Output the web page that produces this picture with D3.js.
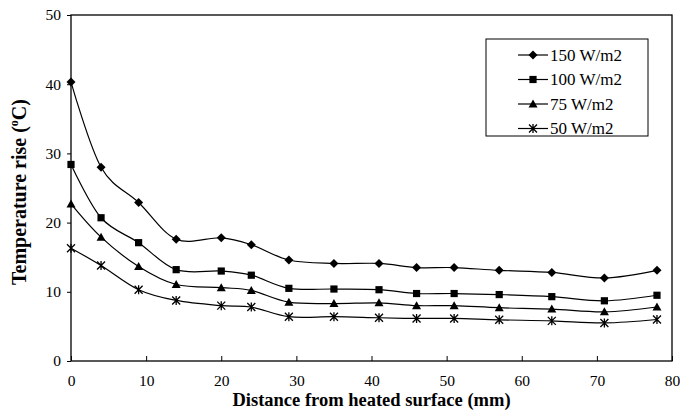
<!DOCTYPE html>
<html>
<head>
<meta charset="utf-8">
<script src="https://cdn.jsdelivr.net/npm/d3@7"></script>
<style>
  html, body { margin: 0; padding: 0; background: #fff; }
  svg { display: block; }
  svg text { font-family: "Times New Roman", "Liberation Serif", Times, serif; }
</style>
</head>
<body>
<svg id="chart" width="680" height="416"></svg>
<script>
// distances (mm) where the thermocouples sit
const distances = [0, 4, 9, 14, 20, 24, 29, 35, 41, 46, 51, 57, 64, 71, 78];

// temperature rise (°C) per heat flux
const rise150 = [40.3, 28.0, 22.9, 17.6, 17.8, 16.8, 14.6, 14.1, 14.1, 13.5, 13.5, 13.1, 12.8, 12.0, 13.1];
const rise100 = [28.4, 20.7, 17.1, 13.2, 13.0, 12.4, 10.5, 10.4, 10.3, 9.75, 9.75, 9.6, 9.3, 8.7, 9.5];
const rise75 = [22.7, 17.9, 13.65, 11.05, 10.6, 10.2, 8.5, 8.3, 8.4, 8.0, 8.0, 7.7, 7.5, 7.1, 7.8];
const rise50 = [16.3, 13.8, 10.3, 8.75, 8.0, 7.8, 6.4, 6.4, 6.25, 6.15, 6.15, 5.95, 5.8, 5.5, 6.0];

const seriesNames = ["150 W/m2", "100 W/m2", "75 W/m2", "50 W/m2"];
const markerTypes = ["diamond", "square", "triangle", "star"];
const xTicks = [0, 10, 20, 30, 40, 50, 60, 70, 80];
const yTicks = [0, 10, 20, 30, 40, 50];

const series = [rise150, rise100, rise75, rise50].map((vals, i) => ({
  name: seriesNames[i],
  marker: markerTypes[i],
  points: distances.map((d, j) => ({ x: d, y: vals[j] }))
}));

const svg = d3.select("#chart");
const margin = { left: 71, right: 8, top: 15, bottom: 55 };
const W = 680, H = 416;
const FONT = "'Times New Roman', 'Liberation Serif', Times, serif";

const x = d3.scaleLinear().domain([0, 80]).range([margin.left, W - margin.right]);
const y = d3.scaleLinear().domain([0, 50]).range([H - margin.bottom, margin.top]);

// frame
svg.append("rect")
  .attr("x", x(0)).attr("y", y(50))
  .attr("width", x(80) - x(0)).attr("height", y(0) - y(50))
  .attr("fill", "none").attr("stroke", "#000").attr("stroke-width", 1.3);

// x axis: ticks point inward
const xAxis = svg.append("g").attr("transform", `translate(0,${y(0)})`)
  .call(d3.axisBottom(x).tickValues(xTicks).tickSize(-5).tickPadding(14).tickFormat(d3.format("d")));
xAxis.attr("font-family", FONT).attr("font-size", 15.5);
xAxis.select(".domain").remove();
xAxis.selectAll("text").attr("fill", "#000");
xAxis.selectAll("line").attr("stroke", "#000");

// y axis: ticks point outward
const yAxis = svg.append("g").attr("transform", `translate(${x(0)},0)`)
  .call(d3.axisLeft(y).tickValues(yTicks).tickSize(4).tickPadding(6).tickFormat(d3.format("d")));
yAxis.attr("font-family", FONT).attr("font-size", 15.5);
yAxis.select(".domain").remove();
yAxis.selectAll("text").attr("fill", "#000");
yAxis.selectAll("line").attr("stroke", "#000");

// lines (Excel style smoothing)
const line = d3.line()
  .x((d) => x(d.x))
  .y((d) => y(d.y))
  .curve(d3.curveCardinal.tension(0));

svg.append("g").selectAll("path")
  .data(series)
  .join("path")
  .attr("d", (s) => line(s.points))
  .attr("fill", "none")
  .attr("stroke", "#000")
  .attr("stroke-width", 1.2);

// markers
function drawMarker(sel, type) {
  if (type === "diamond") {
    sel.append("path").attr("d", "M0,-4.5L4.5,0L0,4.5L-4.5,0Z").attr("fill", "#000");
  } else if (type === "square") {
    sel.append("rect").attr("x", -3.6).attr("y", -3.6).attr("width", 7.2).attr("height", 7.2).attr("fill", "#000");
  } else if (type === "triangle") {
    sel.append("path").attr("d", "M0,-4.5L4.5,3.5L-4.5,3.5Z").attr("fill", "#000");
  } else {
    sel.append("path")
      .attr("d", "M-4,-4L4,4M-4,4L4,-4M0,-4.5L0,4.5")
      .attr("stroke", "#000").attr("stroke-width", 1.3).attr("fill", "none");
  }
}

series.forEach((s) => {
  svg.append("g").selectAll("g")
    .data(s.points)
    .join("g")
    .attr("transform", (d) => `translate(${x(d.x)},${y(d.y)})`)
    .each(function () { drawMarker(d3.select(this), s.marker); });
});

// legend
const legend = svg.append("g").attr("transform", "translate(486,39)");
legend.append("rect")
  .attr("width", 162).attr("height", 97)
  .attr("fill", "#fff").attr("stroke", "#000").attr("stroke-width", 1);

const rows = legend.selectAll("g.row")
  .data(series)
  .join("g")
  .attr("class", "row")
  .attr("transform", (d, i) => `translate(0,${16 + i * 24.5})`);
rows.append("line").attr("x1", 32).attr("x2", 62).attr("stroke", "#000").attr("stroke-width", 1.2);
rows.each(function (d) {
  const m = d3.select(this).append("g").attr("transform", "translate(47,0)");
  drawMarker(m, d.marker);
});
rows.append("text")
  .attr("x", 64).attr("dy", "0.35em")
  .attr("font-family", FONT)
  .attr("font-size", 17)
  .text((d) => d.name);

// axis titles
svg.append("text")
  .attr("x", (x(0) + x(80)) / 2).attr("y", 406)
  .attr("text-anchor", "middle")
  .attr("font-family", FONT)
  .attr("font-size", 18.5).attr("font-weight", "bold")
  .text("Distance from heated surface (mm)");

// y title, starts at the bottom (y = 285) and reads upward
const yTitle = svg.append("text")
  .attr("transform", "translate(26,285) rotate(-90)")
  .attr("font-family", FONT)
  .attr("font-size", 20).attr("font-weight", "bold");
yTitle.append("tspan").text("Temperature rise (");
yTitle.append("tspan").attr("font-size", 12).attr("dy", -8).text("o");
yTitle.append("tspan").attr("dy", 8).text("C)");
</script>
</body>
</html>
